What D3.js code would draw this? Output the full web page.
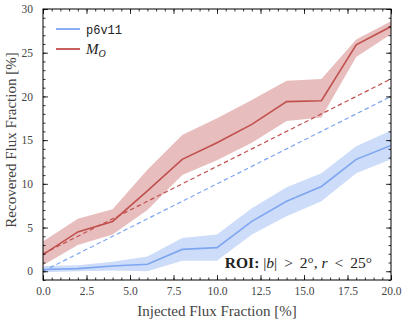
<!DOCTYPE html>
<html>
<head>
<meta charset="utf-8">
<script src="https://cdn.jsdelivr.net/npm/d3@7"></script>
<style>
  body { margin: 0; background: #fff; }
</style>
</head>
<body>
<div id="chart"></div>
<script>
const widthChart = 407;
const heightChart = 324;
const margin = {top: 9, right: 16, bottom: 44, left: 43};
const serif = "'Liberation Serif', 'DejaVu Serif', serif";

// injected flux fraction [%]
const injected = [0, 2, 4, 6, 8, 10, 12, 14, 16, 18, 20];

// p6v11 recovered
const p6Mid = [0.2, 0.3, 0.6, 0.8, 2.5, 2.7, 5.7, 8.0, 9.7, 12.8, 14.4];
const p6Lo  = [-0.1, 0.0, 0.1, 0.0, 1.2, 1.2, 4.2, 6.3, 8.0, 11.2, 12.8];
const p6Hi  = [0.6, 0.7, 1.1, 1.7, 3.8, 4.2, 7.2, 9.6, 11.2, 14.3, 16.1];

// M_O recovered
const moMid = [1.9, 4.5, 5.7, 9.2, 12.8, 14.7, 16.8, 19.4, 19.5, 25.9, 28.0];
const moLo  = [0.7, 3.0, 4.2, 7.0, 11.0, 12.7, 14.7, 17.2, 17.6, 24.5, 27.1];
const moHi  = [3.4, 6.0, 7.1, 11.6, 15.6, 17.5, 19.6, 21.8, 22.0, 26.5, 28.6];

// expected lines: recovered = injected + offset
const p6Offset = 0;
const moOffset = 2;

const xTicks = [0, 2.5, 5, 7.5, 10, 12.5, 15, 17.5, 20];
const yTicks = [0, 5, 10, 15, 20, 25, 30];

const blue = "#7ea6f0";
const blueBand = "#cddcf9";
const red = "#c0504d";
const redBand = "#e6b6b6";

function createChart(){
    var w = widthChart - margin.left - margin.right;
    var h = heightChart - margin.top - margin.bottom;

    const root = d3.select("#chart")
        .html("")
        .append("svg")
        .attr("width", widthChart)
        .attr("height", heightChart);

    const svg = root.append("g")
        .attr("transform", "translate(" + margin.left + "," + margin.top + ")");

    var x = d3.scaleLinear().domain([0, 20]).range([0, w]);
    var y = d3.scaleLinear().domain([-1, 30]).range([h, 0]);

    var area = d3.area()
        .x((d, i) => x(injected[i]))
        .y0(d => y(d[0]))
        .y1(d => y(d[1]));
    var line = d3.line()
        .x((d, i) => x(injected[i]))
        .y(d => y(d));

    svg.append("defs").append("clipPath").attr("id", "clip")
        .append("rect").attr("width", w).attr("height", h);
    const plot = svg.append("g").attr("clip-path", "url(#clip)");

    // bands
    plot.append("path")
        .attr("d", area(p6Lo.map((v, i) => [v, p6Hi[i]])))
        .attr("fill", blueBand);
    plot.append("path")
        .attr("d", area(moLo.map((v, i) => [v, moHi[i]])))
        .attr("fill", redBand)
        .attr("fill-opacity", 0.9);

    // expected dashed lines
    plot.append("path")
        .attr("d", line(injected.map(v => v + p6Offset)))
        .attr("fill", "none").attr("stroke", blue)
        .attr("stroke-width", 1.2).attr("stroke-dasharray", "4.5,3");
    plot.append("path")
        .attr("d", line(injected.map(v => v + moOffset)))
        .attr("fill", "none").attr("stroke", red)
        .attr("stroke-width", 1.2).attr("stroke-dasharray", "4.5,3");

    // median lines
    plot.append("path")
        .attr("d", line(p6Mid))
        .attr("fill", "none").attr("stroke", blue).attr("stroke-width", 1.6);
    plot.append("path")
        .attr("d", line(moMid))
        .attr("fill", "none").attr("stroke", red).attr("stroke-width", 1.6);

    // axes with inward ticks on all sides
    var xMinor = d3.range(0, 20.001, 0.5);
    var yMinor = d3.range(-1, 30.001, 1);

    function styleAxis(g){
        g.attr("font-family", serif);
        g.select(".domain").remove();
        g.selectAll("line").attr("stroke", "#000").attr("stroke-width", 0.8);
        g.selectAll("text").attr("font-size", "11.5px").attr("fill", "#444")
            .style("font-family", serif);
    }

    svg.append("g").attr("transform", "translate(0," + h + ")")
        .call(d3.axisBottom(x).tickValues(xMinor).tickSize(-2.5).tickFormat(""))
        .call(styleAxis);
    svg.append("g").attr("transform", "translate(0," + h + ")")
        .call(d3.axisBottom(x).tickValues(xTicks).tickSize(-5).tickPadding(7).tickFormat(d3.format(".1f")))
        .call(styleAxis);
    svg.append("g")
        .call(d3.axisTop(x).tickValues(xMinor).tickSize(-2.5).tickFormat(""))
        .call(styleAxis);
    svg.append("g")
        .call(d3.axisTop(x).tickValues(xTicks).tickSize(-5).tickFormat(""))
        .call(styleAxis);

    svg.append("g")
        .call(d3.axisLeft(y).tickValues(yMinor).tickSize(-2.5).tickFormat(""))
        .call(styleAxis);
    svg.append("g")
        .call(d3.axisLeft(y).tickValues(yTicks).tickSize(-5).tickPadding(10).tickFormat(d3.format("d")))
        .call(styleAxis);
    svg.append("g").attr("transform", "translate(" + w + ",0)")
        .call(d3.axisRight(y).tickValues(yMinor).tickSize(-2.5).tickFormat(""))
        .call(styleAxis);
    svg.append("g").attr("transform", "translate(" + w + ",0)")
        .call(d3.axisRight(y).tickValues(yTicks).tickSize(-5).tickFormat(""))
        .call(styleAxis);

    svg.append("rect")
        .attr("width", w).attr("height", h)
        .attr("fill", "none").attr("stroke", "#000").attr("stroke-width", 1);

    // axis labels
    root.append("text")
        .attr("x", 217).attr("y", 316)
        .attr("text-anchor", "middle").attr("font-size", "15px").attr("fill", "#444")
        .style("font-family", serif)
        .text("Injected Flux Fraction [%]");
    root.append("text")
        .attr("transform", "translate(16,140) rotate(-90)")
        .attr("text-anchor", "middle").attr("font-size", "15px").attr("fill", "#444")
        .style("font-family", serif)
        .text("Recovered Flux Fraction [%]");

    // legend
    const leg = svg.append("g").attr("transform", "translate(13,20)");
    leg.append("line").attr("x1", 0).attr("x2", 24).attr("y1", 0).attr("y2", 0)
        .attr("stroke", blue).attr("stroke-width", 1.8);
    leg.append("text").attr("x", 30).attr("y", 4.5)
        .attr("font-size", "12px").attr("fill", "#222")
        .style("font-family", "'Liberation Mono', 'DejaVu Sans Mono', monospace")
        .text("p6v11");
    leg.append("line").attr("x1", 0).attr("x2", 24).attr("y1", 20).attr("y2", 20)
        .attr("stroke", red).attr("stroke-width", 1.8);
    const mo = leg.append("text").attr("x", 30).attr("y", 25)
        .attr("font-size", "15px").attr("fill", "#222").attr("font-style", "italic")
        .style("font-family", serif);
    mo.append("tspan").text("M");
    mo.append("tspan").attr("font-size", "10px").attr("dy", 3).text("O");

    // ROI annotation
    const roi = svg.append("text")
        .attr("x", w - 19).attr("y", h - 12)
        .attr("text-anchor", "end").attr("font-size", "15.5px").attr("fill", "#222")
        .style("font-family", serif)
        .attr("xml:space", "preserve");
    roi.append("tspan").attr("font-weight", "bold").text("ROI: ");
    roi.append("tspan").text("|");
    roi.append("tspan").attr("font-style", "italic").text("b");
    roi.append("tspan").text("| \u2009>\u2009 2°, ");
    roi.append("tspan").attr("font-style", "italic").text("r");
    roi.append("tspan").text(" \u2009<\u2009 25°");
}

createChart();
</script>
</body>
</html>
